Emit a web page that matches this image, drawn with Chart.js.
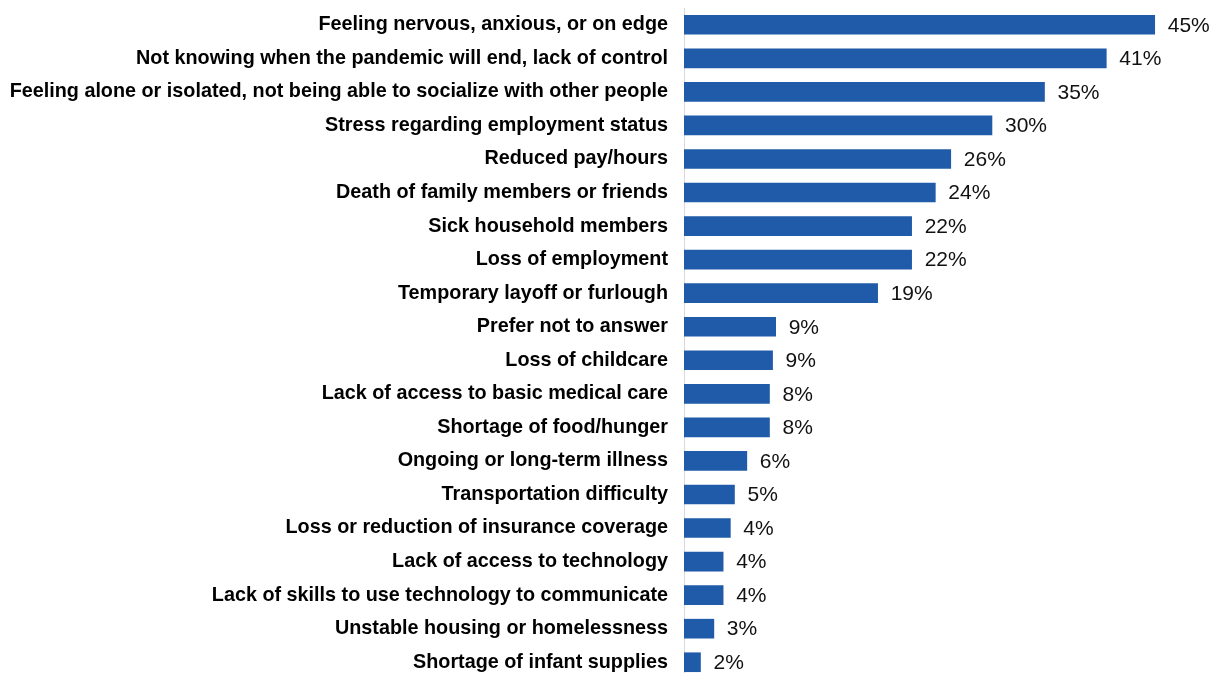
<!DOCTYPE html>
<html>
<head>
<meta charset="utf-8">
<script src="https://cdn.jsdelivr.net/npm/chart.js@4/dist/chart.umd.min.js"></script>
<style>
  html, body { margin: 0; padding: 0; background: #fff; overflow: hidden; }
  #wrap { width: 1210px; height: 681px; position: relative; }
</style>
</head>
<body>
<div id="wrap"><canvas id="graph"></canvas></div>
<script>
const categories = [
  'Feeling nervous, anxious, or on edge',
  'Not knowing when the pandemic will end, lack of control',
  'Feeling alone or isolated, not being able to socialize with other people',
  'Stress regarding employment status',
  'Reduced pay/hours',
  'Death of family members or friends',
  'Sick household members',
  'Loss of employment',
  'Temporary layoff or furlough',
  'Prefer not to answer',
  'Loss of childcare',
  'Lack of access to basic medical care',
  'Shortage of food/hunger',
  'Ongoing or long-term illness',
  'Transportation difficulty',
  'Loss or reduction of insurance coverage',
  'Lack of access to technology',
  'Lack of skills to use technology to communicate',
  'Unstable housing or homelessness',
  'Shortage of infant supplies'
]

// bar lengths (unrounded)
const values = [45.7, 41.0, 35.0, 29.9, 25.9, 24.4, 22.1, 22.1, 18.8, 8.9, 8.6, 8.3, 8.3, 6.1, 4.9, 4.5, 3.8, 3.8, 2.9, 1.6]

// labels as printed next to the bars
const shownLabels = ['45%', '41%', '35%', '30%', '26%', '24%', '22%', '22%', '19%', '9%', '9%', '8%', '8%', '6%', '5%', '4%', '4%', '4%', '3%', '2%']

const barText = {
  id: 'barText',
  afterDatasetsDraw(chart) {
    const { ctx } = chart
    const meta = chart.getDatasetMeta(0)
    ctx.save()
    ctx.font = '21px "Liberation Sans", Arial, sans-serif'
    ctx.fillStyle = '#111'
    ctx.textAlign = 'left'
    ctx.textBaseline = 'middle'
    meta.data.forEach((bar, i) => {
      ctx.fillText(shownLabels[i], bar.x + 13, bar.y + 1)
    })
    ctx.restore()
  }
}

new Chart(document.getElementById('graph'), {
  type: 'bar',
  plugins: [barText],
  data: {
    labels: categories,
    datasets: [{
      data: values,
      backgroundColor: '#205BA9',
      borderWidth: 0,
      barThickness: 19
    }]
  },
  options: {
    indexAxis: 'y',
    responsive: true,
    maintainAspectRatio: false,
    animation: false,
    layout: { padding: { left: 0, right: 11, top: 8, bottom: 2 } },
    plugins: {
      legend: { display: false },
      tooltip: { enabled: false }
    },
    scales: {
      x: {
        display: false,
        min: 0,
        max: 50
      },
      y: {
        afterFit(scale) {
          scale.width = 684
          scale.paddingTop = 0
          scale.paddingBottom = 0
        },
        grid: { display: false, drawTicks: false },
        border: { display: true, color: '#d9d9d9', width: 1 },
        ticks: {
          padding: 16,
          color: '#000',
          font: { family: '"Liberation Sans", Arial, sans-serif', size: 19.8, weight: 'bold' }
        }
      }
    }
  }
})
</script>
</body>
</html>
